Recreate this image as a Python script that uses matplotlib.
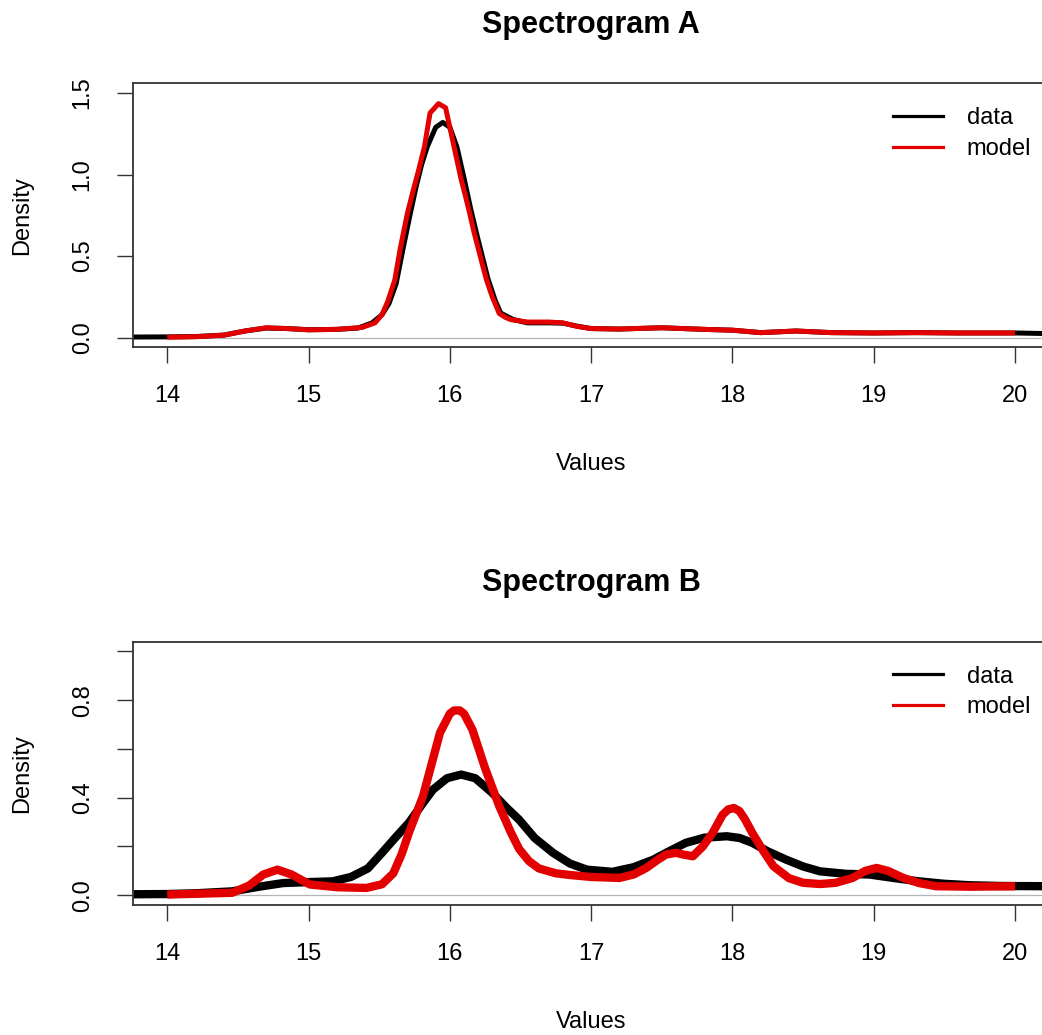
import matplotlib
matplotlib.use("Agg")
import matplotlib.pyplot as plt
from matplotlib.lines import Line2D

plt.rcParams["font.family"] = ["Liberation Sans", "DejaVu Sans"]

# ---- Spectrogram A ----
a_data_x = [13.76, 14.0, 14.2, 14.4, 14.55, 14.7, 14.85, 15.0, 15.2, 15.35, 15.45,
            15.52, 15.57, 15.62, 15.67, 15.72, 15.76, 15.8, 15.84, 15.9, 15.95, 16.0,
            16.05, 16.1, 16.15, 16.2, 16.27, 16.32, 16.36, 16.45, 16.55, 16.7, 16.8,
            16.9, 17.0, 17.2, 17.5, 17.8, 18.0, 18.2, 18.45, 18.7, 19.0, 19.3, 19.6,
            20.0, 20.24]
a_data_y = [0.003, 0.004, 0.006, 0.015, 0.04, 0.058, 0.055, 0.048, 0.05, 0.058, 0.09,
            0.14, 0.21, 0.33, 0.55, 0.76, 0.92, 1.06, 1.17, 1.29, 1.32, 1.29,
            1.17, 0.98, 0.78, 0.6, 0.36, 0.23, 0.15, 0.11, 0.09, 0.09, 0.088,
            0.07, 0.055, 0.052, 0.06, 0.05, 0.045, 0.03, 0.04, 0.03, 0.028, 0.03, 0.028,
            0.028, 0.024]

a_model_x = [14.0, 14.2, 14.4, 14.55, 14.7, 14.85, 15.0, 15.2, 15.38, 15.47, 15.52,
             15.56, 15.61, 15.65, 15.7, 15.74, 15.78, 15.82, 15.86, 15.92, 15.97,
             16.03, 16.08, 16.11, 16.14, 16.17, 16.2, 16.23, 16.26, 16.3, 16.35,
             16.39, 16.43, 16.55, 16.7, 16.8, 16.9, 17.0, 17.2, 17.5, 17.8, 18.0,
             18.2, 18.45, 18.7, 19.0, 19.3, 19.6, 20.0]
a_model_y = [0.002, 0.005, 0.014, 0.04, 0.06, 0.055, 0.047, 0.05, 0.062, 0.09, 0.14,
             0.22, 0.352, 0.55, 0.764, 0.9, 1.03, 1.17, 1.378, 1.435, 1.41,
             1.17, 0.97, 0.87, 0.764, 0.65, 0.55, 0.45, 0.352, 0.25, 0.147,
             0.125, 0.11, 0.095, 0.095, 0.09, 0.068, 0.055, 0.052, 0.06, 0.05, 0.045,
             0.03, 0.04, 0.03, 0.028, 0.03, 0.028, 0.028]

# ---- Spectrogram B ----
b_data_x = [13.76, 14.0, 14.2, 14.46, 14.65, 14.82, 15.0, 15.17, 15.3, 15.42, 15.52,
            15.62, 15.71, 15.8, 15.88, 15.98, 16.08, 16.18, 16.3, 16.4, 16.49, 16.6,
            16.73, 16.85, 16.97, 17.15, 17.3, 17.44, 17.55, 17.67, 17.8, 17.96, 18.05,
            18.14, 18.25, 18.38, 18.5, 18.62, 18.8, 18.97, 19.15, 19.32, 19.5, 19.68,
            19.9, 20.24]
b_data_y = [0.004, 0.005, 0.008, 0.016, 0.035, 0.05, 0.054, 0.057, 0.075, 0.11, 0.174,
            0.24, 0.297, 0.37, 0.433, 0.48, 0.495, 0.48, 0.42, 0.36, 0.31, 0.235,
            0.174, 0.13, 0.105, 0.096, 0.115, 0.146, 0.18, 0.215, 0.236, 0.242, 0.235,
            0.215, 0.18, 0.146, 0.118, 0.098, 0.088, 0.085, 0.07, 0.057, 0.047, 0.041,
            0.038, 0.037]

b_model_x = [14.0, 14.2, 14.46, 14.58, 14.68, 14.78, 14.88, 15.01, 15.2, 15.41, 15.52,
             15.6, 15.66, 15.71, 15.81, 15.93, 16.0, 16.03, 16.07, 16.1, 16.16, 16.25,
             16.35, 16.43, 16.49, 16.56, 16.63, 16.75, 16.85, 17.0, 17.2, 17.3, 17.39,
             17.47, 17.53, 17.6, 17.66, 17.72, 17.79, 17.86, 17.93, 17.97, 18.01, 18.05,
             18.09, 18.14, 18.22, 18.29, 18.4, 18.5, 18.62, 18.73, 18.85, 18.94, 19.02,
             19.1, 19.21, 19.32, 19.44, 19.7, 20.0]
b_model_y = [0.003, 0.006, 0.01, 0.04, 0.085, 0.105, 0.085, 0.044, 0.033, 0.03, 0.045,
             0.09, 0.17, 0.256, 0.406, 0.666, 0.745, 0.758, 0.758, 0.745, 0.679, 0.52,
             0.365, 0.26, 0.19, 0.14, 0.11, 0.09, 0.083, 0.075, 0.071, 0.085, 0.112,
             0.145, 0.167, 0.174, 0.166, 0.16, 0.2, 0.256, 0.33, 0.352, 0.358, 0.345,
             0.31, 0.256, 0.18, 0.119, 0.07, 0.051, 0.046, 0.051, 0.071, 0.1, 0.112,
             0.1, 0.071, 0.05, 0.037, 0.035, 0.037]

x_ticks = [14, 15, 16, 17, 18, 19, 20]
a_yticks = [0.0, 0.5, 1.0, 1.5]
a_ylabels = ["0.0", "0.5", "1.0", "1.5"]
b_yticks = [0.0, 0.2, 0.4, 0.6, 0.8, 1.0]
b_ylabels = ["0.0", "", "0.4", "", "0.8", ""]

W, H = 1042, 1035
RED = "#e30000"
EDGE = "#333333"
FS = 17


def fx(p):
    return p / W


def fy(p):
    return 1 - p / H


fig = plt.figure(figsize=(W / 100, H / 100), dpi=100)


def panel(top, bottom, title, xd, yd, xm, ym, ylim, yticks, ylabels, lw):
    left, right = 133.3, 1049
    ax = fig.add_axes([fx(left), fy(bottom), (right - left) / W, (bottom - top) / H])
    ax.axhline(0, color="#b5b5b5", lw=0.9, zorder=1)
    ax.plot(xd, yd, color="black", lw=lw, solid_joinstyle="round",
            solid_capstyle="butt", zorder=2)
    ax.plot(xm, ym, color=RED, lw=lw, solid_joinstyle="round",
            solid_capstyle="butt", zorder=3)
    ax.set_xlim(13.76, 20.24)
    ax.set_ylim(*ylim)
    ax.set_xticks(x_ticks)
    ax.set_xticklabels([str(t) for t in x_ticks])
    ax.set_yticks(yticks)
    ax.set_yticklabels(ylabels, rotation=90, va="center")
    ax.tick_params(axis="both", direction="out", length=11.5, width=1.0,
                   color=EDGE, labelsize=FS)
    ax.tick_params(axis="x", pad=16)
    ax.tick_params(axis="y", pad=17)
    for s in ax.spines.values():
        s.set_color(EDGE)
        s.set_linewidth(1.3)

    handles = [Line2D([], [], color="black", lw=2.3),
               Line2D([], [], color=RED, lw=2.3)]
    row1 = top + 33
    ax.legend(handles, ["data", "model"], loc="upper left",
              bbox_to_anchor=(fx(893), fy(row1 - 9)),
              bbox_transform=fig.transFigure, frameon=False, fontsize=FS,
              borderpad=0, borderaxespad=0, handlelength=2.12,
              handletextpad=1.0, labelspacing=0.36)

    fig.text(fx(591), fy(top - 50.3), title, ha="center", va="baseline",
             fontsize=22, fontweight="bold")
    fig.text(fx(591), fy(bottom + 122.7), "Values", ha="center",
             va="baseline", fontsize=FS)
    fig.text(fx(22.5), fy((top + bottom) / 2), "Density", rotation=90,
             ha="center", va="center", fontsize=FS)
    return ax


panel(83.3, 347.3, "Spectrogram A", a_data_x, a_data_y, a_model_x, a_model_y,
      (-0.06, 1.56), a_yticks, a_ylabels, 3.6)
panel(641.7, 905, "Spectrogram B", b_data_x, b_data_y, b_model_x, b_model_y,
      (-0.04, 1.04), b_yticks, b_ylabels, 6.0)

fig.savefig("out.png", dpi=100)
